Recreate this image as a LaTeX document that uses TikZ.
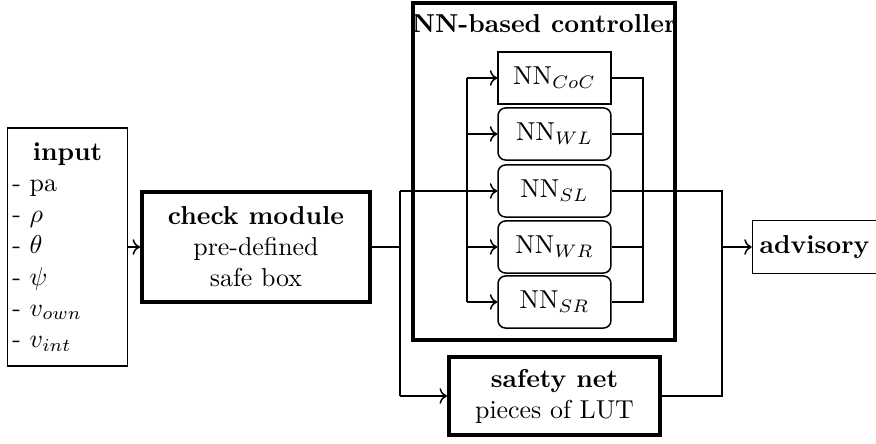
\documentclass[tikz,border=0pt]{standalone}
\usetikzlibrary{arrows.meta}
\begin{document}
\begin{tikzpicture}[x=0.3861pt,y=-0.3861pt,
  thinline/.style={line width=0.58pt},
  thickbox/.style={draw,line width=1.55pt,align=center,inner sep=2pt},
  thinbox/.style={draw,line width=0.58pt,align=center,inner sep=2pt},
  nnbox/.style={draw,line width=0.58pt,minimum width=43.6pt,minimum height=20.1pt,inner sep=0pt},
  arr/.style={->,line width=0.58pt}]
\useasboundingbox (0,0) rectangle (876,443);
% input
\node[thinbox,minimum width=45.9pt,minimum height=91.9pt,text width=42.5pt,align=left] (inp) at (67.5,247)
  {\makebox[\linewidth]{\textbf{input}}\\- pa\\- $\rho$\\- $\theta$\\- $\psi$\\- $v_{own}$\\- $v_{int}$};
% check module
\node[thickbox,minimum width=88pt,minimum height=42.5pt] (chk) at (256,247)
  {\textbf{check module}\\pre-defined\\safe box};
% NN controller
\node[draw,line width=1.55pt,minimum width=101.2pt,minimum height=130.1pt,inner sep=0pt] (ctrl) at (544,171.5) {};
\node[anchor=north,font=\bfseries,inner sep=5pt] (ctrlt) at (ctrl.north) {NN-based controller};
\node[nnbox] (coc) at (554.5,78) {NN$_{CoC}$};
\node[nnbox,rounded corners=2.9pt] (wl) at (554.5,134) {NN$_{WL}$};
\node[nnbox,rounded corners=2.9pt] (sl) at (554.5,191) {NN$_{SL}$};
\node[nnbox,rounded corners=2.9pt] (wr) at (554.5,247) {NN$_{WR}$};
\node[nnbox,rounded corners=2.9pt] (sr) at (554.5,302) {NN$_{SR}$};
% safety net
\node[thickbox,minimum width=81.5pt,minimum height=30.1pt] (safe) at (554.5,396)
  {\textbf{safety net}\\pieces of LUT};
% advisory
\node[thinbox,minimum width=47.9pt,minimum height=20.5pt,font=\bfseries] (adv) at (814.5,247) {advisory};
% coordinates
\coordinate (j1) at (400,247);
\coordinate (j1t) at (400,191);
\coordinate (j1b) at (400,396);
\coordinate (lbt) at (467,78);
\coordinate (lbb) at (467,302);
\coordinate (rbt) at (643,78);
\coordinate (rbb) at (643,302);
\coordinate (j2t) at (722,191);
\coordinate (j2) at (722,247);
\coordinate (j2b) at (722,396);
% connectors
\draw[arr] (inp.east) -- (chk.west);
\draw[thinline] (chk.east) -- (j1);
\draw[thinline] (j1t) -- (j1b);
\draw[arr] (j1t) -- (sl.west);
\draw[arr] (j1b) -- (safe.west);
\draw[thinline] (lbt) -- (lbb);
\draw[arr] (lbt) -- (coc.west);
\draw[arr] (lbt |- wl.west) -- (wl.west);
\draw[arr] (lbt |- wr.west) -- (wr.west);
\draw[arr] (lbb) -- (sr.west);
\draw[thinline] (coc.east) -- (rbt) -- (rbb) -- (sr.east);
\draw[thinline] (wl.east) -- (rbt |- wl.east);
\draw[thinline] (wr.east) -- (rbt |- wr.east);
\draw[thinline] (sl.east) -- (j2t) -- (j2b) -- (safe.east);
\draw[arr] (j2) -- (adv.west);
\end{tikzpicture}
\end{document}
